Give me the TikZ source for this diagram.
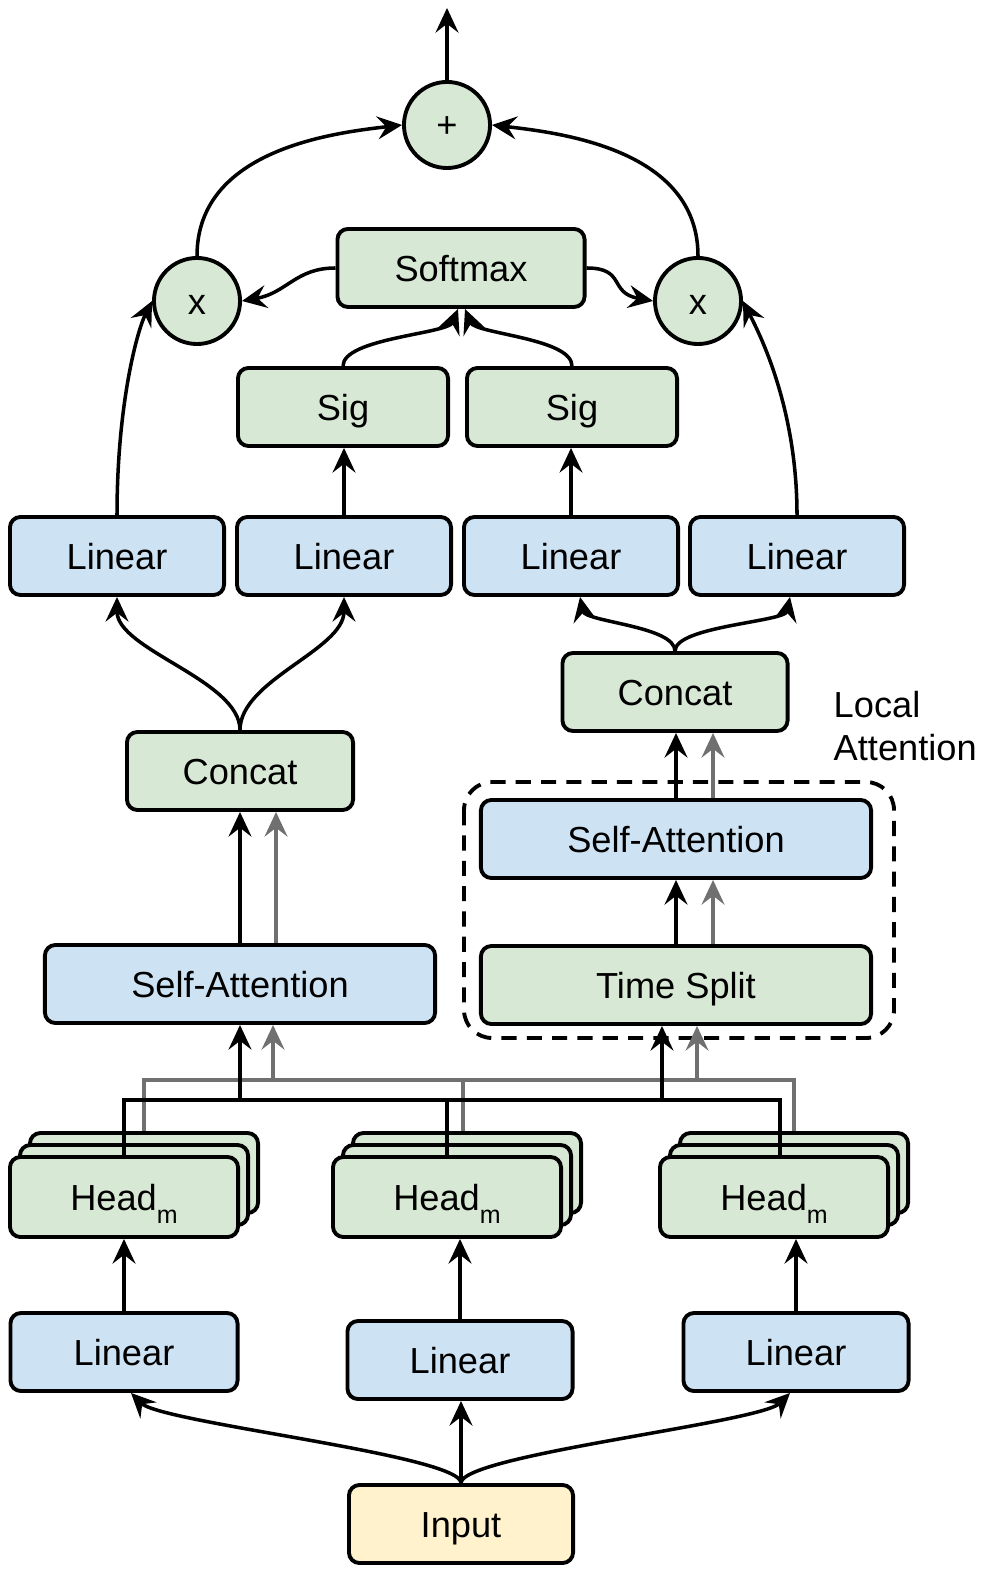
\documentclass[tikz,border=0pt]{standalone}
\usepackage{fontspec}
\setmainfont{Liberation Sans}
\usetikzlibrary{arrows.meta,positioning,calc}
\definecolor{blueF}{RGB}{205,226,243}
\definecolor{greenF}{RGB}{215,233,212}
\definecolor{yellowF}{RGB}{255,242,204}
\definecolor{wireG}{RGB}{112,112,112}

\begin{document}
\begin{tikzpicture}[
    x=0.01cm, y=-0.01cm,
    font=\fontsize{10.3}{12.4}\selectfont,
    box/.style={rectangle, draw=black, line width=1.1pt, rounded corners=3pt, minimum height=0.78cm, inner sep=0pt, text height=7.4pt, text depth=0pt, align=center},
    blk/.style={box, fill=blueF},
    grn/.style={box, fill=greenF},
    op/.style={circle, draw=black, line width=1.1pt, fill=greenF, minimum size=0.86cm, inner sep=0pt, text height=7.4pt, text depth=0pt},
    arrow/.style={-{Stealth[length=7pt, width=6.5pt, inset=2.5pt]}, line width=1pt},
    wire/.style={line width=1pt},
    gray/.style={color=wireG}
]
\useasboundingbox (0,0) rectangle (986,1574);

% Input and first linear layer
\node[box, fill=yellowF, minimum width=2.24cm] (inp) at (461,1524) {Input};
\node[blk, minimum width=2.27cm] (lin1) at (124,1352) {Linear};
\node[blk, minimum width=2.25cm] (lin2) at (460,1360) {Linear};
\node[blk, minimum width=2.25cm] (lin3) at (796,1352) {Linear};

\draw[arrow] (inp.north) -- (inp.north |- lin2.south);
\draw[arrow] (inp.north) .. controls +(0,-28) and +(30,30) .. ([xshift=0.07cm]lin1.south);
\draw[arrow] (inp.north) .. controls +(0,-28) and +(-30,30) .. ([xshift=-0.06cm]lin3.south);

% Heads (three stacked copies each)
\foreach \i/\hx in {1/124, 2/447, 3/774} {
    \node[grn, minimum width=2.28cm, minimum height=0.8cm] (head\i c) at (\hx+20,1197-24) {};
    \node[grn, minimum width=2.28cm, minimum height=0.8cm] (head\i b) at (\hx+10,1197-12) {};
    \node[grn, minimum width=2.28cm, minimum height=0.8cm] (head\i) at (\hx,1197) {Head\raisebox{-3.7pt}{\fontsize{7.1}{8}\selectfont m}};
}
\draw[arrow] (lin1.north) -- (head1.south);
\draw[arrow] (lin2.north) -- (lin2.north |- head2.south);
\draw[arrow] (lin3.north) -- (lin3.north |- head3.south);

% Global branch
\node[blk, minimum width=3.9cm] (sa1) at (240,984) {Self-Attention};
\node[grn, minimum width=2.26cm] (cat1) at (240,771) {Concat};

% Local attention branch
\node[grn, minimum width=3.9cm] (ts) at (676,985) {Time Split};
\node[blk, minimum width=3.9cm] (sa2) at (676,839) {Self-Attention};
\node[grn, minimum width=2.25cm] (cat2) at (675,692) {Concat};
\draw[line width=1.1pt, dash pattern=on 4.3pt off 2.9pt, rounded corners=8pt] (464,782) rectangle (894,1038);
\node[anchor=west, align=left, inner sep=0pt] (lbl) at (833,726) {Local\\Attention};

% Head outputs to both branches
\coordinate (busk) at (0,1100);
\coordinate (busg) at (0,1080);
\draw[wire, gray] (head1c.north) -- (head1c.north |- busg) -- (head3c.north |- busg) -- (head3c.north);
\draw[wire, gray] ([xshift=-0.04cm]head2c.north) -- ([xshift=-0.04cm]head2c.north |- busg);
\draw[wire] (head1.north) -- (head1.north |- busk) -- ([xshift=0.06cm]head3.north |- busk) -- ([xshift=0.06cm]head3.north);
\draw[wire] (head2.north) -- (head2.north |- busk);
\draw[arrow] (sa1.south |- busk) -- (sa1.south);
\draw[arrow, gray] ([xshift=0.33cm]sa1.south |- busg) -- ([xshift=0.33cm]sa1.south);
\draw[arrow] ([xshift=-0.14cm]ts.south |- busk) -- ([xshift=-0.14cm]ts.south);
\draw[arrow, gray] ([xshift=0.21cm]ts.south |- busg) -- ([xshift=0.21cm]ts.south);

\draw[arrow] (sa1.north) -- (cat1.south);
\draw[arrow, gray] ([xshift=0.36cm]sa1.north) -- ([xshift=0.36cm]sa1.north |- cat1.south);
\draw[arrow] (ts.north) -- (sa2.south);
\draw[arrow, gray] ([xshift=0.37cm]ts.north) -- ([xshift=0.37cm]sa2.south);
\draw[arrow] (sa2.north) -- (sa2.north |- cat2.south);
\draw[arrow, gray] ([xshift=0.37cm]sa2.north) -- ([xshift=0.37cm]sa2.north |- cat2.south);

% Linear layers before gating
\foreach \i/\hx in {1/117, 2/344, 3/571, 4/797} {
    \node[blk, minimum width=2.14cm] (lt\i) at (\hx,556) {Linear};
}
\draw[arrow] (cat1.north) .. controls +(0,-50) and +(0,53) .. (lt1.south);
\draw[arrow] (cat1.north) .. controls +(0,-50) and +(0,53) .. (lt2.south);
\draw[arrow] (cat2.north) .. controls +(0,-25) and +(5,25) .. ([xshift=0.09cm]lt3.south);
\draw[arrow] (cat2.north) .. controls +(0,-25) and +(-5,25) .. ([xshift=-0.07cm]lt4.south);

% Gating
\node[grn, minimum width=2.1cm] (sig1) at (343,407) {Sig};
\node[grn, minimum width=2.1cm] (sig2) at (572,407) {Sig};
\node[grn, minimum width=2.47cm] (soft) at (461,268) {Softmax};
\draw[arrow] (lt2.north) -- (lt2.north |- sig1.south);
\draw[arrow] (lt3.north) -- (lt3.north |- sig2.south);
\draw[arrow] (sig1.north) .. controls +(0,-28) and +(-10,25) .. ([xshift=-0.03cm]soft.south);
\draw[arrow] (sig2.north) .. controls +(0,-28) and +(10,25) .. ([xshift=0.04cm]soft.south);

% Weighting and sum
\node[op] (mul1) at (197,301) {x};
\node[op] (mul2) at (698,301) {x};
\node[op] (add) at (447,125) {+};
\coordinate (out) at (447,8);
\draw[arrow] (soft.west) .. controls +(-40,0) and +(45,-8) .. (mul1.east);
\draw[arrow] (soft.east) .. controls +(40,0) and +(-45,-8) .. (mul2.west);
\draw[arrow] (lt1.north) .. controls +(0,-110) and +(-15,30) .. (mul1.west);
\draw[arrow] (lt4.north) .. controls +(0,-110) and +(15,30) .. (mul2.east);
\draw[arrow] (mul1.north) .. controls +(0,-106) and +(-70,8) .. (add.west);
\draw[arrow] (mul2.north) .. controls +(0,-106) and +(70,8) .. (add.east);
\draw[arrow] (add.north) -- (out);

\end{tikzpicture}
\end{document}
